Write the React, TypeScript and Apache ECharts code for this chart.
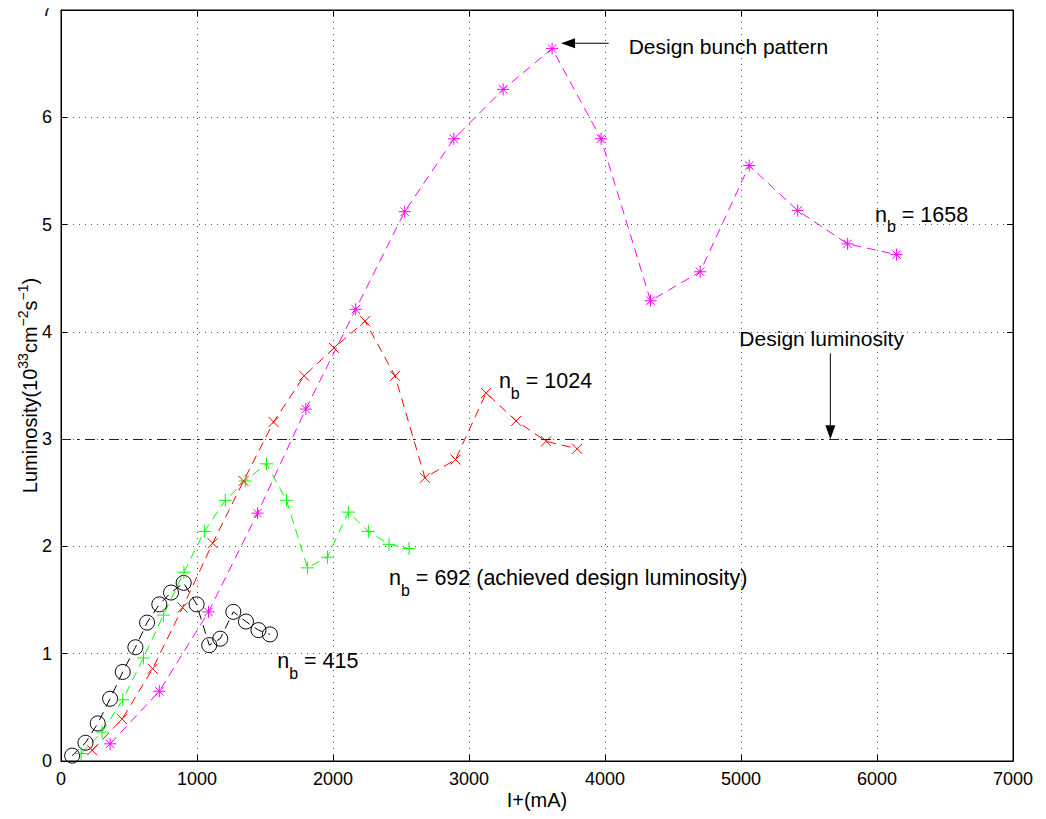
import React, { useEffect, useRef } from "react";
import * as echarts from "echarts";

const x415 = [82, 180, 270, 361, 454, 547, 633, 723, 809, 902, 997, 1090, 1171, 1267, 1360, 1452, 1536];
const y415 = [0.05, 0.17, 0.35, 0.58, 0.83, 1.06, 1.29, 1.46, 1.57, 1.66, 1.46, 1.08, 1.14, 1.39, 1.3, 1.22, 1.18];

const x692 = [148, 302, 454, 606, 753, 904, 1054, 1208, 1355, 1511, 1658, 1812, 1959, 2113, 2260, 2412, 2559];
const y692 = [0.07, 0.27, 0.57, 0.96, 1.36, 1.76, 2.14, 2.43, 2.61, 2.77, 2.43, 1.8, 1.9, 2.32, 2.14, 2.02, 1.98];

const x1024 = [229, 449, 674, 894, 1115, 1342, 1563, 1788, 2008, 2236, 2456, 2676, 2901, 3126, 3347, 3567, 3795];
const y1024 = [0.1, 0.39, 0.86, 1.43, 2.03, 2.61, 3.16, 3.59, 3.85, 4.1, 3.59, 2.64, 2.81, 3.43, 3.17, 2.98, 2.91];

const x1658 = [361, 723, 1085, 1445, 1800, 2167, 2527, 2889, 3251, 3611, 3971, 4335, 4700, 5060, 5417, 5784, 6144];
const y1658 = [0.16, 0.65, 1.39, 2.31, 3.28, 4.21, 5.12, 5.8, 6.26, 6.64, 5.8, 4.29, 4.56, 5.55, 5.13, 4.82, 4.72];

const designLuminosity = 3;

const xMin = 0, xMax = 7000, xStep = 1000;
const yMin = 0, yMax = 7, yStep = 1;

const FONT = "Liberation Sans, Arial, Helvetica, sans-serif";

const pair = (xs: number[], ys: number[]) => xs.map((x, i) => [x, ys[i]]);

const SYM_X = "path://M0 0L10 10M10 0L0 10";
const SYM_PLUS = "path://M5 0L5 10M0 5L10 5";
const SYM_STAR = "path://M5 0L5 10M0 5L10 5M1.5 1.5L8.5 8.5M8.5 1.5L1.5 8.5";

function lineSeries(name: string, data: number[][], color: string, symbol: string, size: number, extra: any = {}) {
  return {
    name,
    type: "line",
    data,
    symbol,
    symbolSize: size,
    showAllSymbol: true,
    lineStyle: { color, width: 1, type: [9, 6] },
    itemStyle: { color: "transparent", borderColor: color, borderWidth: 1 },
    emphasis: { disabled: true },
    z: 3,
    ...extra,
  };
}

export default function App() {
  const ref = useRef<HTMLDivElement>(null);
  useEffect(() => {
    const chart = echarts.init(ref.current!, undefined, { renderer: "svg" });
    const axisCommon = {
      type: "value",
      axisLine: { show: true, onZero: false, lineStyle: { color: "#000", width: 1 } },
      axisTick: { show: true, inside: true, length: 6, lineStyle: { color: "#000" } },
    };
    chart.setOption({
      animation: false,
      backgroundColor: "#fff",
      grid: { left: 61, right: 33, top: 10, bottom: 58, show: true, borderColor: "#000", borderWidth: 1 },
      xAxis: [
        {
          ...axisCommon,
          position: "bottom",
          min: xMin, max: xMax, interval: xStep,
          axisLabel: { color: "#000", fontSize: 18, fontFamily: FONT, margin: 9, formatter: (v: number) => String(v) },
          splitLine: { show: true, lineStyle: { color: "#555", type: [1, 5], width: 1 } },
        },
        {
          ...axisCommon,
          position: "top",
          min: xMin, max: xMax, interval: xStep,
          axisLabel: { show: false },
          splitLine: { show: false },
        },
      ],
      yAxis: [
        {
          ...axisCommon,
          position: "left",
          min: yMin, max: yMax, interval: yStep,
          axisLabel: { color: "#000", fontSize: 18, fontFamily: FONT, margin: 9, formatter: (v: number) => String(v) },
          splitLine: { show: true, lineStyle: { color: "#555", type: [1, 5], width: 1 } },
        },
        {
          ...axisCommon,
          position: "right",
          min: yMin, max: yMax, interval: yStep,
          axisLabel: { show: false },
          splitLine: { show: false },
        },
      ],
      series: [
        lineSeries("nb415", pair(x415, y415), "#000000", "circle", 15),
        lineSeries("nb692", pair(x692, y692), "#00ff00", SYM_PLUS, 13),
        lineSeries("nb1024", pair(x1024, y1024), "#ff0000", SYM_X, 10),
        lineSeries("nb1658", pair(x1658, y1658), "#ff00ff", SYM_STAR, 12, {
          markLine: {
            silent: true,
            symbol: "none",
            label: { show: false },
            lineStyle: { color: "#222", width: 1, type: [10, 6, 2, 6] },
            data: [{ yAxis: designLuminosity }],
          },
        }),
      ],
    });

    const px = (x: number, y: number) => chart.convertToPixel({ gridIndex: 0 }, [x, y]) as number[];
    const nbRich = {
      n: { fontSize: 21.5, fontFamily: FONT, color: "#000", lineHeight: 23, verticalAlign: "top" },
      b: { fontSize: 16, fontFamily: FONT, color: "#000", lineHeight: 31, verticalAlign: "bottom" },
    };
    const nbText = (x: number, y: number, rest: string) => {
      const p = px(x, y);
      return {
        type: "text",
        x: p[0],
        y: p[1],
        style: {
          text: `{n|n}{b|b}{n|${rest}}`,
          rich: nbRich,
          verticalAlign: "middle",
          align: "left",
          fill: "#000",
        },
        z: 10,
      };
    };
    const plainText = (x: number, y: number, text: string) => {
      const p = px(x, y);
      return {
        type: "text",
        x: p[0],
        y: p[1],
        style: { text, fontSize: 21, fontFamily: FONT, fill: "#000", verticalAlign: "middle", align: "left" },
        z: 10,
      };
    };
    const arrow = (x0: number, y0: number, x1: number, y1: number) => {
      const a = px(x0, y0);
      const b = px(x1, y1);
      const dx = b[0] - a[0], dy = b[1] - a[1];
      const len = Math.hypot(dx, dy);
      const ux = dx / len, uy = dy / len;
      const L = 14, W = 5;
      const bx = b[0] - ux * L, by = b[1] - uy * L;
      return [
        { type: "line", shape: { x1: a[0], y1: a[1], x2: bx, y2: by }, style: { stroke: "#000", lineWidth: 1 }, z: 10 },
        {
          type: "polygon",
          shape: { points: [[b[0], b[1]], [bx - uy * W, by + ux * W], [bx + uy * W, by - ux * W]] },
          style: { fill: "#000" },
          z: 10,
        },
      ];
    };
    const yl = px(0, 3.5);
    const xl = px(3500, 0);
    chart.setOption({
      graphic: [
        plainText(4174, 6.66, "Design bunch pattern"),
        ...arrow(4027, 6.69, 3677, 6.69),
        plainText(4988, 3.94, "Design luminosity"),
        ...arrow(5657, 3.8, 5657, 3.0),
        nbText(5985, 5.05, " = 1658"),
        nbText(3220, 3.5, " = 1024"),
        nbText(2412, 1.66, " = 692 (achieved design luminosity)"),
        nbText(1590, 0.89, " = 415"),
        {
          type: "text",
          x: xl[0],
          y: xl[1] + 39,
          style: { text: "I+(mA)", fontSize: 20, fontFamily: FONT, fill: "#000", align: "center", verticalAlign: "middle" },
        },
        {
          type: "text",
          x: yl[0] - 33,
          y: yl[1],
          rotation: Math.PI / 2,
          style: {
            text: "{a|Luminosity(10}{s|33}{a|cm}{s|−2}{a|s}{s|−1}{a|)}",
            rich: {
              a: { fontSize: 20, fontFamily: FONT, fill: "#000", lineHeight: 22, verticalAlign: "bottom" },
              s: { fontSize: 14, fontFamily: FONT, fill: "#000", lineHeight: 24, verticalAlign: "top" },
            },
            align: "center",
            verticalAlign: "middle",
          },
        },
      ],
    });
    return () => chart.dispose();
  }, []);
  return <div ref={ref} style={{ width: 1046, height: 819, margin: -8 }} />;
}
